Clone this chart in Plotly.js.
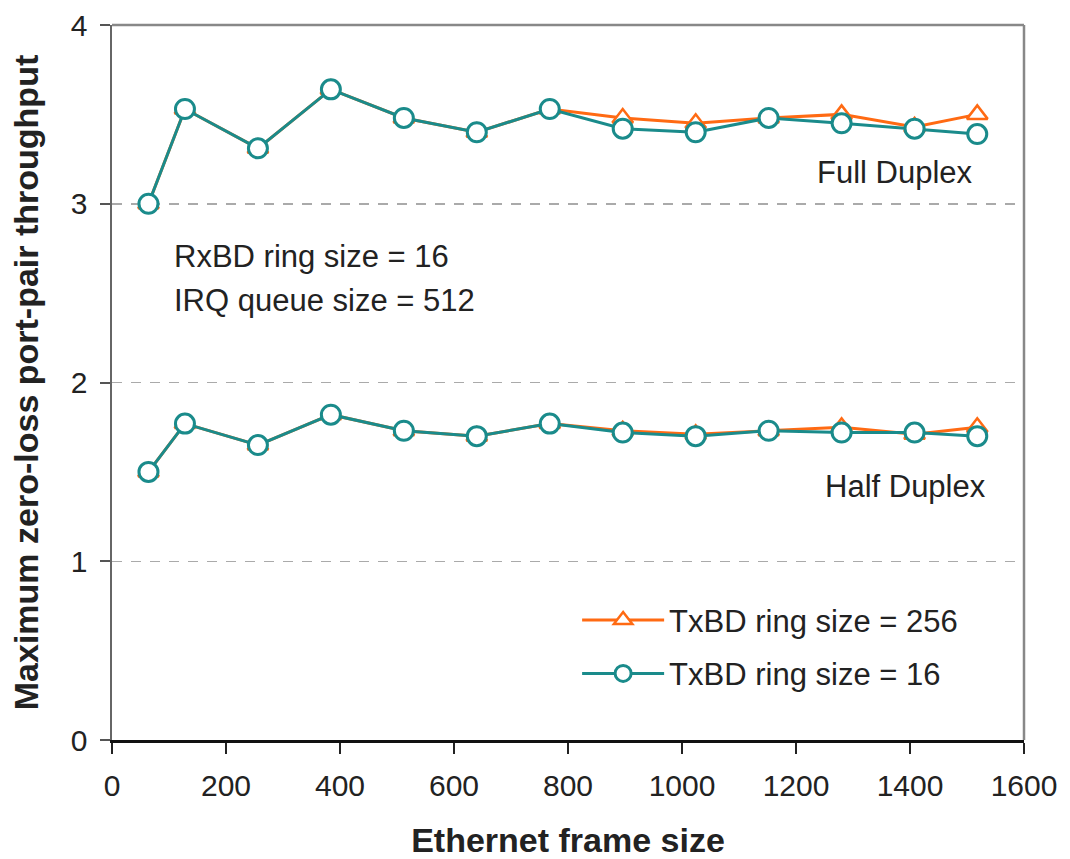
<!DOCTYPE html>
<html>
<head>
<meta charset="utf-8">
<script src="https://cdn.plot.ly/plotly-3.0.1.min.js"></script>
<style>html,body{margin:0;padding:0;background:#fff;}#chart{width:1070px;height:859px;}</style>
</head>
<body>
<div id="chart"></div>
<script>
// Ethernet frame sizes (x)
const frameSizes = [64, 128, 256, 384, 512, 640, 768, 896, 1024, 1152, 1280, 1408, 1518];
// Full duplex throughput
const fullTx256 = [3.00, 3.53, 3.31, 3.64, 3.48, 3.40, 3.53, 3.48, 3.45, 3.48, 3.50, 3.43, 3.50];
const fullTx16  = [3.00, 3.53, 3.31, 3.64, 3.48, 3.40, 3.53, 3.42, 3.40, 3.48, 3.45, 3.42, 3.39];
// Half duplex throughput
const halfTx256 = [1.50, 1.77, 1.65, 1.82, 1.73, 1.70, 1.77, 1.73, 1.71, 1.73, 1.75, 1.71, 1.75];
const halfTx16  = [1.50, 1.77, 1.65, 1.82, 1.73, 1.70, 1.77, 1.72, 1.70, 1.73, 1.72, 1.72, 1.70];
const seriesNames = ['TxBD ring size = 256', 'TxBD ring size = 16'];
const xTickVals = [0, 200, 400, 600, 800, 1000, 1200, 1400, 1600];
const yTickVals = [0, 1, 2, 3, 4];

const ORANGE = '#FF6A13';
const TEAL = '#1A8B8B';

function triTrace(y, show) {
  return {
    x: frameSizes, y: y, type: 'scatter', mode: 'lines+markers',
    name: seriesNames[0], legendgroup: 'g256', showlegend: show,
    line: {color: ORANGE, width: 3},
    marker: {symbol: 'triangle-up', size: 18, color: '#fff', line: {color: ORANGE, width: 2.5}}
  };
}
function circTrace(y, show) {
  return {
    x: frameSizes, y: y, type: 'scatter', mode: 'lines+markers',
    name: seriesNames[1], legendgroup: 'g16', showlegend: show,
    line: {color: TEAL, width: 3},
    marker: {symbol: 'circle', size: 19, color: '#fff', line: {color: TEAL, width: 3}}
  };
}

const data = [triTrace(fullTx256, true), triTrace(halfTx256, false), circTrace(fullTx16, true), circTrace(halfTx16, false)];

const FONT = 'Liberation Sans, Arial, sans-serif';
const textFont = {family: FONT, size: 31, color: '#222'};

const layout = {
  width: 1070, height: 859,
  margin: {l: 112, r: 46, t: 25, b: 119},
  paper_bgcolor: '#fff', plot_bgcolor: '#fff',
  showlegend: true,
  font: {family: FONT, color: '#222'},
  xaxis: {
    range: [0, 1600], tickvals: xTickVals, ticktext: xTickVals.map(String),
    showgrid: false, zeroline: false,
    showline: true, linecolor: '#111', linewidth: 3,
    ticks: 'outside', ticklen: 11, tickwidth: 2, tickcolor: '#222',
    ticklabelstandoff: 6,
    tickfont: {family: FONT, size: 30, color: '#222'},
    title: {text: 'Ethernet frame size', font: {family: FONT, size: 34, color: '#222', weight: 'bold'}, standoff: 28}
  },
  yaxis: {
    range: [0, 4], tickvals: yTickVals, ticktext: yTickVals.map(String),
    showgrid: true, gridcolor: '#aaa', gridwidth: 1.5, griddash: '10px,9px',
    zeroline: false,
    showline: true, linecolor: '#666', linewidth: 2.5,
    ticks: 'outside', ticklen: 10, tickwidth: 2, tickcolor: '#555',
    ticklabelstandoff: 6,
    tickfont: {family: FONT, size: 30, color: '#222'},
    title: {text: 'Maximum zero-loss port-pair throughput', font: {family: FONT, size: 34, color: '#222', weight: 'bold'}, standoff: 22}
  },
  legend: {
    x: 0.51, y: 0.205, xanchor: 'left', yanchor: 'top',
    bgcolor: 'rgba(0,0,0,0)', borderwidth: 0,
    font: {family: FONT, size: 31, color: '#222'},
    itemwidth: 82, tracegroupgap: 10, traceorder: 'grouped'
  },
  shapes: [
    {type: 'line', xref: 'paper', yref: 'paper', x0: 0, x1: 1, y0: 1, y1: 1, line: {color: '#888', width: 2.5}},
    {type: 'line', xref: 'paper', yref: 'paper', x0: 1, x1: 1, y0: 0, y1: 1, line: {color: '#888', width: 2.5}}
  ],
  annotations: [
    {xref: 'paper', yref: 'paper', x: 0.946, y: 0.794, xanchor: 'right', yanchor: 'middle', text: 'Full Duplex', showarrow: false, font: textFont},
    {xref: 'paper', yref: 'paper', x: 0.961, y: 0.354, xanchor: 'right', yanchor: 'middle', text: 'Half Duplex', showarrow: false, font: textFont},
    {xref: 'paper', yref: 'paper', x: 0.066, y: 0.676, xanchor: 'left', yanchor: 'middle', text: 'RxBD ring size = 16', showarrow: false, font: textFont},
    {xref: 'paper', yref: 'paper', x: 0.066, y: 0.615, xanchor: 'left', yanchor: 'middle', text: 'IRQ queue size = 512', showarrow: false, font: textFont}
  ]
};

Plotly.newPlot('chart', data, layout, {displayModeBar: false, staticPlot: true});
</script>
</body>
</html>
